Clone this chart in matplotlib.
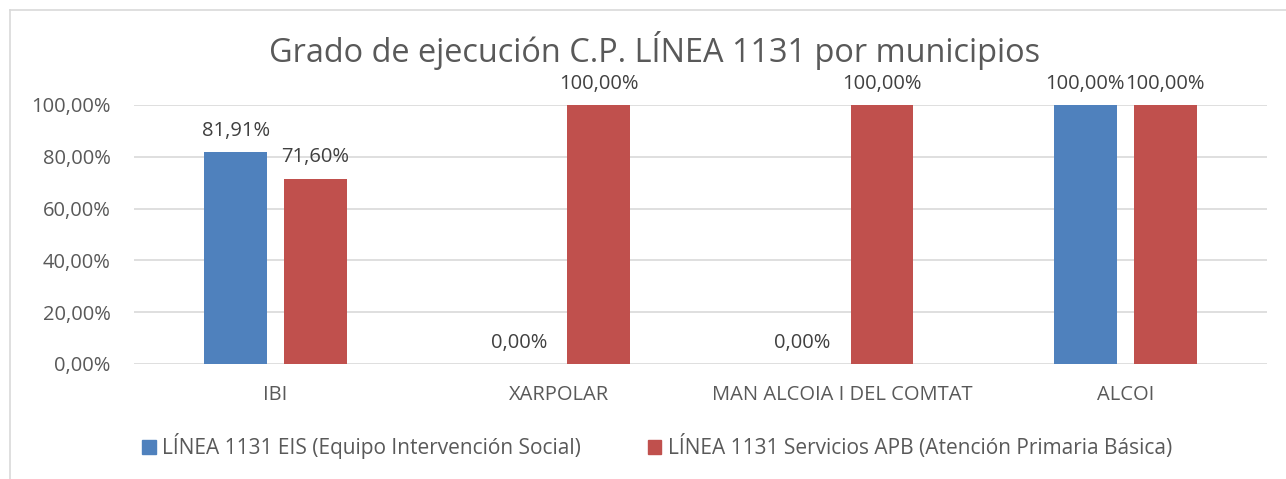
import numpy as np
import matplotlib.pyplot as plt
from matplotlib.lines import Line2D

municipios = ["IBI", "XARPOLAR", "MAN ALCOIA I DEL COMTAT", "ALCOI"]
eis = [81.91, 0.00, 0.00, 100.00]
apb = [71.60, 100.00, 100.00, 100.00]
series_names = ["LÍNEA 1131 EIS (Equipo Intervención Social)",
                "LÍNEA 1131 Servicios APB (Atención Primaria Básica)"]
yticks = [0, 20, 40, 60, 80, 100]

blue = "#4F81BD"
red = "#C0504D"
txt = "#595959"
grid = "#D9D9D9"

plt.rcParams['font.family'] = ['Open Sans', 'DejaVu Sans']

fig = plt.figure(figsize=(12.86, 4.79), dpi=100)
ax = fig.add_axes([0.1042, 0.2401, 0.881, 0.5407])

x = np.arange(len(municipios))
w = 0.222
off = 0.141

b1 = ax.bar(x - off, eis, w, color=blue, zorder=2)
b2 = ax.bar(x + off, apb, w, color=red, zorder=2)

def fmt(v):
    return f"{v:.2f}%".replace(".", ",")

for bars, vals in ((b1, eis), (b2, apb)):
    for b, v in zip(bars, vals):
        ax.annotate(fmt(v), (b.get_x() + b.get_width() / 2, v),
                    xytext=(0, 8), textcoords="offset points",
                    ha="center", va="bottom", fontsize=14.5, color="#404040")

ax.set_xlim(-0.5, len(municipios) - 0.5)
ax.set_ylim(0, 100)
ax.set_yticks(yticks)
ax.set_yticklabels([fmt(t) for t in yticks], fontsize=14.5, color=txt)
ax.set_xticks(x)
ax.set_xticklabels(municipios, fontsize=14.5, color=txt)
ax.tick_params(length=0, pad=17)
ax.tick_params(axis='x', pad=15)
ax.yaxis.grid(True, color=grid, linewidth=1.2, zorder=0)
for s in ax.spines.values():
    s.set_visible(False)

fig.text(0.509, 0.895, "Grado de ejecución C.P. LÍNEA 1131 por municipios",
         ha="center", va="center", fontsize=23.4, color=txt)

handles = [plt.Rectangle((0, 0), 1, 1, color=blue),
           plt.Rectangle((0, 0), 1, 1, color=red)]
fig.legend(handles, series_names, loc="center", bbox_to_anchor=(0.511, 0.068),
           ncol=2, frameon=False, fontsize=15, labelcolor=txt,
           handlelength=0.65, handleheight=0.65, handletextpad=0.3,
           columnspacing=3.2)

# chart frame (left and top edges only)
fig.add_artist(Line2D([10 / 1286, 10 / 1286], [0, 1 - 10 / 479],
                      transform=fig.transFigure, color=grid, lw=1.2))
fig.add_artist(Line2D([10 / 1286, 1], [1 - 10 / 479, 1 - 10 / 479],
                      transform=fig.transFigure, color=grid, lw=1.2))

fig.savefig("out.png", dpi=100)
